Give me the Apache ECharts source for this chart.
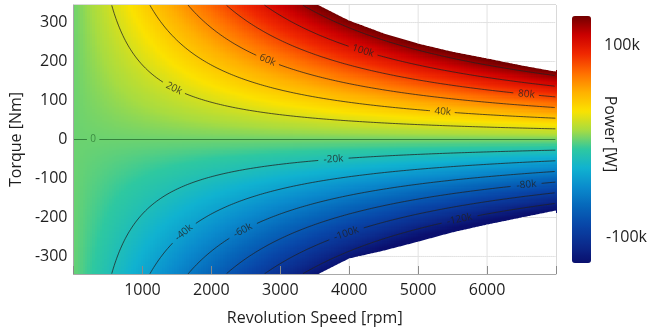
<!DOCTYPE html>
<html><head><meta charset="utf-8">
<script src="https://cdn.jsdelivr.net/npm/echarts@6/dist/echarts.min.js"></script>
<style>html,body{margin:0;padding:0;background:#fff}#c{width:650px;height:332px}</style>
</head><body><div id="c"></div>
<script>
// ---- data ----
const speedTicks = [1000, 2000, 3000, 4000, 5000, 6000];
const torqueTicks = [-300, -200, -100, 0, 100, 200, 300];
const envSpeed  = [0, 3550, 4000, 4500, 5000, 5500, 6000, 6500, 7000];
const envTop    = [345, 345, 305, 272, 246, 225, 208, 190, 174];
const envBottom = [-345, -345, -305, -285, -262, -238, -218, -200, -182];
const contourLevels = [-120000, -100000, -80000, -60000, -40000, -20000, 20000, 40000, 60000, 80000, 100000, 120000];
const labelText  = ['20k', '60k', '100k', '40k', '80k', '0', '-20k', '-80k', '-40k', '-60k', '-100k', '-120k'];
const labelLevel = [20000, 60000, 100000, 40000, 80000, 0, -20000, -80000, -40000, -60000, -100000, -120000];
const labelSpeed = [1457, 2814, 4200, 5357, 6571, 286, 3771, 6571, 1600, 2457, 3957, 5600];
const colorbarLabels = ['100k', '-100k'];
const powerRange = [-130000, 130000];
const colors = ['#0a0f6e','#0b2c8e','#0846a8','#0667ba','#0a8ccd','#10b2d0','#2ec8a0',
                '#a8dc40','#fbe200','#ffb000','#ff6e00','#f02800','#cc0000','#720000'];

const K = 2 * Math.PI / 60; // rpm -> rad/s
function interp(xs, ys, x) {
  for (let i = 1; i < xs.length; i++) {
    if (x <= xs[i]) { const t = (x - xs[i-1]) / (xs[i] - xs[i-1]); return ys[i-1] + t * (ys[i] - ys[i-1]); }
  }
  return ys[ys.length - 1];
}
const SMIN = 0, SMAX = 7000, TMIN = -345, TMAX = 345;
const NX = 200, NY = 230;
const dx = (SMAX - SMIN) / NX, dy = (TMAX - TMIN) / NY;
const heat = [];
for (let i = 0; i < NX; i++) {
  const n = SMIN + (i + 0.5) * dx;
  const top = Math.max(interp(envSpeed, envTop, n - dx/2), interp(envSpeed, envTop, n + dx/2));
  const bot = Math.min(interp(envSpeed, envBottom, n - dx/2), interp(envSpeed, envBottom, n + dx/2));
  for (let j = 0; j < NY; j++) {
    const T = TMIN + (j + 0.5) * dy;
    if (T <= top + dy && T >= bot - dy) heat.push([n, T, T * n * K]);
  }
}
function contourPts(L) {
  const pts = [];
  let n = 5;
  while (n <= 7000) {
    const T = L / (n * K);
    const top = interp(envSpeed, envTop, n), bot = interp(envSpeed, envBottom, n);
    pts.push((T <= top && T >= bot) ? [n, T] : [n, '-']);
    n += n < 2000 ? 2 : 10;
  }
  return pts;
}
// envelope outlines (white outside the operating region)
const topEdge = [], botEdge = [];
for (let n = 0; n <= 7000; n += 25) {
  topEdge.push([n, interp(envSpeed, envTop, n)]);
  botEdge.push([n, interp(envSpeed, envBottom, n)]);
}
// grid lines, visible only outside the operating region
const gridPts = [];
speedTicks.forEach(s => {
  const top = interp(envSpeed, envTop, s), bot = interp(envSpeed, envBottom, s);
  if (top < TMAX) { gridPts.push([s, top], [s, TMAX], [s, '-']); }
  if (bot > TMIN) { gridPts.push([s, TMIN], [s, bot], [s, '-']); }
});
torqueTicks.forEach(t => {
  for (let n = 0; n <= 7000; n += 5) {
    const out = t > interp(envSpeed, envTop, n) || t < interp(envSpeed, envBottom, n);
    gridPts.push(out ? [n, t] : [n, '-']);
  }
  gridPts.push([7000, '-']);
});

const chart = echarts.init(document.getElementById('c'), null, {renderer: 'canvas'});
const FONT = 'Open Sans';
const baseSeries = [
  { type: 'custom', data: heat, encode: {x: 0, y: 1}, progressive: 0, progressiveThreshold: 1e9,
    silent: true, clip: true, z: 2,
    renderItem: (params, api) => {
      const n = api.value(0), T = api.value(1);
      const a = api.coord([n - dx / 2, T + dy / 2]);
      const b = api.coord([n + dx / 2, T - dy / 2]);
      return {type: 'rect', silent: true,
        shape: {x: Math.floor(a[0]), y: Math.floor(a[1]), width: Math.ceil(b[0] - a[0]) + 1, height: Math.ceil(b[1] - a[1]) + 1},
        style: {fill: api.visual('color')}};
    } },
  { type: 'line', data: topEdge, showSymbol: false, silent: true, z: 3, smooth: 0.3, smoothMonotone: 'x',
    lineStyle: {width: 0}, areaStyle: {color: '#ffffff', opacity: 1, origin: 'end'} },
  { type: 'line', data: botEdge, showSymbol: false, silent: true, z: 3, smooth: 0.3, smoothMonotone: 'x',
    lineStyle: {width: 0}, areaStyle: {color: '#ffffff', opacity: 1, origin: 'start'} },
  { type: 'line', data: gridPts, showSymbol: false, silent: true, z: 4, connectNulls: false,
    lineStyle: {color: '#e2e2e2', width: 1} }
];
const option = {
  animation: false,
  textStyle: {fontFamily: FONT},
  grid: {left: 69, right: 94, top: 5, bottom: 58, show: true, borderColor: '#b4b4b4', borderWidth: 1},
  xAxis: { type: 'value', min: SMIN, max: SMAX, interval: 1000, z: 10,
      axisLine: {onZero: false, lineStyle: {color: '#a8a8a8'}},
      axisTick: {inside: true, length: 8, lineStyle: {color: '#8a8a8a'}},
      axisLabel: {fontSize: 16, color: '#1e1e1e', margin: 8, fontFamily: FONT,
        formatter: v => speedTicks.includes(v) ? String(v) : ''},
      splitLine: {show: false},
      name: 'Revolution Speed [rpm]', nameLocation: 'middle', nameGap: 36,
      nameTextStyle: {fontSize: 16, color: '#1e1e1e', fontFamily: FONT} },
  yAxis: { type: 'value', min: TMIN, max: TMAX, interval: 5, z: 10,
      axisLine: {show: true, onZero: false, lineStyle: {color: '#a8a8a8'}},
      axisTick: {show: false},
      axisLabel: {fontSize: 16, color: '#1e1e1e', margin: 6, fontFamily: FONT,
        formatter: v => torqueTicks.includes(v) ? String(v) : ''},
      splitLine: {show: false},
      name: 'Torque [Nm]', nameLocation: 'middle', nameGap: 39,
      nameTextStyle: {fontSize: 16, color: '#1e1e1e', fontFamily: FONT} },
  visualMap: {
    type: 'continuous', min: powerRange[0], max: powerRange[1], seriesIndex: 0, dimension: 2,
    calculable: false, itemWidth: 19, itemHeight: 247, left: 572, top: 16, padding: 0,
    text: null, showLabel: false, hoverLink: false,
    inRange: {color: colors}
  },
  graphic: [
    {type: 'text', left: 604, top: 37, style: {text: colorbarLabels[0], fontSize: 16, fill: '#1e1e1e', fontFamily: FONT}},
    {type: 'text', left: 606, top: 229, style: {text: colorbarLabels[1], fontSize: 16, fill: '#1e1e1e', fontFamily: FONT}},
    {type: 'text', x: 610, y: 134, rotation: -Math.PI / 2,
      style: {text: 'Power [W]', fontSize: 16, fill: '#1e1e1e', fontFamily: FONT, align: 'center', verticalAlign: 'middle'}}
  ],
  series: baseSeries
};
chart.setOption(option);

// second pass: contour lines with label gaps, labels rotated along lines
const toPx = p => chart.convertToPixel({xAxisIndex: 0, yAxisIndex: 0}, p);
const GAP = {};
labelText.forEach((t, k) => {
  const L = labelLevel[k], n = labelSpeed[k];
  const T = L === 0 ? 0 : L / (n * K);
  const c = toPx([n, T]);
  (GAP[L] = GAP[L] || []).push({c, r: t.length * 3 + 3});
});
const lineSeries = [];
contourLevels.forEach(L => {
  const pts = contourPts(L).map(p => {
    if (p[1] === '-') return p;
    const q = toPx(p);
    const g = (GAP[L] || []).some(o => Math.hypot(q[0] - o.c[0], q[1] - o.c[1]) < o.r);
    return g ? [p[0], '-'] : p;
  });
  lineSeries.push({type: 'line', data: pts, showSymbol: false, silent: true, connectNulls: false, z: 5,
    lineStyle: {color: '#222222', width: 1, opacity: 0.75}});
});
// zero level
const zeroPts = [];
for (let n = 0; n <= 7000; n += 5) {
  const q = toPx([n, 0]);
  const g = (GAP[0] || []).some(o => Math.abs(q[0] - o.c[0]) < o.r);
  zeroPts.push(g ? [n, '-'] : [n, 0]);
}
lineSeries.push({type: 'line', data: zeroPts, showSymbol: false, silent: true, connectNulls: false, z: 5,
  lineStyle: {color: '#2f7a36', width: 1.2, opacity: 0.9}});

const labelData = labelText.map((t, k) => {
  const L = labelLevel[k], n = labelSpeed[k];
  let T, rot = 0;
  if (L === 0) { T = 0; }
  else {
    T = L / (n * K);
    const a = toPx([n - 40, L / ((n - 40) * K)]), b = toPx([n + 40, L / ((n + 40) * K)]);
    rot = Math.atan2(-(b[1] - a[1]), b[0] - a[0]) * 180 / Math.PI;
  }
  return {value: [n, T], label: {formatter: t, rotate: rot, color: L === 0 ? '#2f7a36' : '#222222'}};
});
lineSeries.push({type: 'scatter', data: labelData, symbolSize: 0, silent: true, z: 6,
  label: {show: true, position: 'inside', fontSize: 10, color: '#222222', fontFamily: FONT}});

chart.setOption({series: baseSeries.concat(lineSeries)});
</script></body></html>
